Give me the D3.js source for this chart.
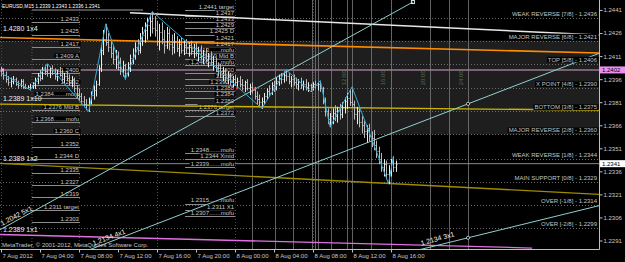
<!DOCTYPE html>
<html><head><meta charset="utf-8">
<script src="https://cdn.jsdelivr.net/npm/d3@7/dist/d3.min.js"></script>
<style>body{margin:0;background:#000;overflow:hidden}svg{display:block}text{font-family:"Liberation Sans",Arial,sans-serif;font-size:6px}</style>
</head><body>
<svg id="c" width="625" height="262"></svg>
<script>
// ---------- DATA ----------
const title = "EURUSD,M15  1.2339 1.2343 1.2336 1.2341";
const copyright = "MetaTrader, \u00a9 2001-2012, MetaQuotes Software Corp.";
const timeTicks = [0,16,32,48,64,80,96,112,128,144,160];
const timeLabels = ["7 Aug 2012","7 Aug 04:00","7 Aug 08:00","7 Aug 12:00","7 Aug 16:00","7 Aug 20:00","8 Aug 00:00","8 Aug 04:00","8 Aug 08:00","8 Aug 12:00","8 Aug 16:00"];
const priceTicks = [1.2441,1.2426,1.2411,1.2396,1.2381,1.2366,1.2351,1.2336,1.2321,1.2306,1.2291];

const highs = [1.2404,1.2402,1.2401,1.2398,1.2397,1.2398,1.2397,1.2395,1.2396,1.2396,1.2393,1.2392,1.2393,1.2394,
1.2397,1.2400,1.2402,1.2404,1.2405,1.2406,
1.2404,1.2405,1.2403,1.2402,1.2404,1.2402,1.2400,1.2401,1.2399,1.2398,1.2397,1.2392,1.2390,1.2387,1.2385,1.2383,1.2384,
1.2388,1.2392,1.2395,1.2405,1.2418,1.2428,1.2432,
1.2426,1.2422,1.2418,1.2415,1.2414,1.2410,1.2408,1.2406,
1.2407,1.2412,1.2416,1.2420,1.2422,1.2426,1.2430,1.2433,1.2436,1.2438,1.2440,
1.2437,1.2434,1.2432,1.2433,1.2428,1.2430,1.2429,1.2425,1.2426,1.2424,1.2422,1.2423,1.2421,1.2422,1.2420,1.2421,1.2419,1.2420,1.2417,1.2418,1.2415,1.2416,1.2413,1.2414,1.2411,1.2410,1.2407,1.2406,1.2404,1.2403,1.2401,1.2400,1.2398,1.2399,1.2397,1.2398,1.2396,1.2395,1.2396,1.2393,1.2394,1.2391,1.2388,1.2386,1.2384,
1.2387,1.2390,1.2392,1.2394,1.2395,1.2397,1.2399,1.2400,1.2401,1.2402,
1.2400,1.2398,1.2399,1.2397,1.2396,1.2397,1.2395,1.2396,1.2394,1.2393,
1.2394,1.2395,1.2394,1.2395,
1.2391,1.2384,1.2377,1.2374,
1.2377,1.2379,1.2378,1.2380,1.2381,1.2384,1.2387,1.2389,1.2391,
1.2382,1.2378,1.2377,1.2372,1.2369,1.2366,1.2367,1.2362,1.2363,1.2356,1.2352,1.2348,1.2344,1.2343,1.2340,1.2344,1.2346,1.2343];
const lows = [1.2398,1.2396,1.2394,1.2392,1.2391,1.2393,1.2392,1.2390,1.2391,1.2390,1.2390,1.2390,1.2389,1.2390,
1.2390,1.2393,1.2395,1.2396,1.2399,1.2398,
1.2397,1.2399,1.2396,1.2395,1.2398,1.2394,1.2393,1.2395,1.2392,1.2391,1.2388,1.2384,1.2382,1.2380,1.2378,1.2376,1.2375,
1.2380,1.2383,1.2385,1.2392,1.2401,1.2412,1.2418,
1.2414,1.2410,1.2406,1.2403,1.2402,1.2399,1.2398,1.2396,
1.2398,1.2401,1.2406,1.2409,1.2412,1.2413,1.2418,1.2420,1.2422,1.2424,1.2426,
1.2424,1.2418,1.2415,1.2419,1.2413,1.2416,1.2415,1.2412,1.2413,1.2414,1.2411,1.2413,1.2412,1.2413,1.2411,1.2412,1.2410,1.2411,1.2408,1.2409,1.2406,1.2407,1.2404,1.2405,1.2402,1.2401,1.2398,1.2397,1.2395,1.2394,1.2393,1.2392,1.2391,1.2392,1.2390,1.2391,1.2389,1.2388,1.2389,1.2386,1.2387,1.2383,1.2380,1.2378,1.2377,
1.2380,1.2383,1.2385,1.2386,1.2388,1.2389,1.2392,1.2393,1.2394,1.2395,
1.2393,1.2391,1.2392,1.2390,1.2389,1.2390,1.2389,1.2389,1.2388,1.2388,
1.2389,1.2390,1.2389,1.2388,
1.2380,1.2372,1.2367,1.2365,
1.2367,1.2369,1.2368,1.2370,1.2371,1.2374,1.2377,1.2379,1.2378,
1.2370,1.2367,1.2365,1.2361,1.2358,1.2355,1.2356,1.2352,1.2350,1.2345,1.2341,1.2336,1.2333,1.2331,1.2328,1.2333,1.2336,1.2336];
const closes = [1.2400,1.2399,1.2396,1.2394,1.2395,1.2396,1.2393,1.2392,1.2395,1.2391,1.2390,1.2391,1.2391,1.2392,
1.2395,1.2398,1.2397,1.2402,1.2401,1.2400,
1.2403,1.2400,1.2398,1.2401,1.2399,1.2396,1.2398,1.2397,1.2394,1.2396,1.2390,1.2386,1.2385,1.2382,1.2380,1.2379,1.2382,
1.2386,1.2389,1.2393,1.2403,1.2415,1.2422,1.2420,
1.2417,1.2413,1.2409,1.2411,1.2404,1.2401,1.2405,1.2400,
1.2404,1.2410,1.2412,1.2417,1.2415,1.2423,1.2425,1.2428,1.2431,1.2434,1.2429,
1.2428,1.2421,1.2427,1.2422,1.2418,1.2426,1.2419,1.2417,1.2421,1.2416,1.2419,1.2415,1.2418,1.2416,1.2417,1.2414,1.2416,1.2413,1.2414,1.2411,1.2412,1.2409,1.2410,1.2407,1.2408,1.2404,1.2403,1.2399,1.2401,1.2397,1.2399,1.2395,1.2396,1.2394,1.2395,1.2393,1.2392,1.2394,1.2390,1.2391,1.2389,1.2385,1.2383,1.2381,1.2382,
1.2385,1.2388,1.2387,1.2392,1.2390,1.2395,1.2397,1.2396,1.2399,1.2398,
1.2395,1.2396,1.2394,1.2393,1.2394,1.2392,1.2393,1.2391,1.2392,1.2391,
1.2393,1.2392,1.2393,1.2390,
1.2382,1.2375,1.2370,1.2372,
1.2374,1.2372,1.2376,1.2373,1.2378,1.2382,1.2384,1.2381,1.2380,
1.2373,1.2375,1.2368,1.2366,1.2362,1.2364,1.2359,1.2358,1.2353,1.2349,1.2344,1.2339,1.2341,1.2334,1.2336,1.2342,1.2339,1.2341];
const firstOpen = 1.2401;

// ZigZag vertices: [bar index, price]
const zigzag = [[0,1.2400],[12,1.2389],[19,1.2406],[36,1.2375],[43,1.2432],[51,1.2396],[62,1.2440],[107,1.2377],[117,1.2402],[127,1.2388],[131,1.2395],[135,1.2365],[144,1.2391],[159,1.2328],[161,1.2346]];

// Murrey math levels
const murreyPrices = [1.2436,1.2421,1.2406,1.2390,1.2375,1.2360,1.2344,1.2329,1.2314,1.2299];
const murreyNames = ["WEAK REVERSE  [7/8] - 1.2436","MAJOR REVERSE  [6/8] - 1.2421","TOP  [5/8] - 1.2406","X POINT  [4/8] - 1.2390","BOTTOM  [3/8] - 1.2375","MAJOR REVERSE  [2/8] - 1.2360","WEAK REVERSE  [1/8] - 1.2344","MAIN SUPPORT  [0/8] - 1.2329","OVER  [-1/8] - 1.2314","OVER  [-2/8] - 1.2299"];
const bandTop = 1.2421, bandBottom = 1.2360;

// Level columns (left fib-like tools)
const col1Prices = [1.2433,1.2425,1.2417,1.2409,1.2400,1.2392,1.2384,1.2376,1.2368,1.2360,1.2352,1.2344,1.2335,1.2327,1.2319,1.2311,1.2303];
const col1Labels = ["1.2433","1.2425","1.2417","1.2409 A","1.2400","1.2392","1.2384.......mofu","1.2376 Mid B","1.2368.......mofu","1.2360 C","1.2352","1.2344 D","1.2335","1.2327","1.2319","1.2311 target","1.2303"];
const col1Range = [12.7, 32.4];
const col2Prices = [1.2441,1.2437,1.2433,1.2429,1.2425,1.2421,1.2417,1.2413,1.2409,1.2405,1.2400,1.2396,1.2392,1.2388,1.2384,1.2380,1.2376,1.2372];
const col2Labels = ["1.2441 target","1.2437","1.2433","1.2429","1.2425 D","1.2421","1.2417","1.2413.......mofu","1.2409 Mid B","1.2405.......mofu","1.2400","1.2396","1.2392 A","1.2388","1.2384","1.2380","1.2376 target","1.2372"];
const col2Range = [75.5, 96];
const col3Prices = [1.2348,1.2344,1.2339,1.2315,1.2311,1.2307];
const col3Labels = ["1.2348.......mofu","1.2344 Xmid","1.2339.......mofu","1.2315.......mofu","1.2311 X1","1.2307.......mofu"];
const col3Range = [75.5, 96];

// Gann / trend lines: [i1, p1, i2, p2]
const gannLines = [
  {name:"", pts:[52.9,1.24392,245.7,1.24247], color:"#e8e8e8", w:1.5},
  {name:"1.4280 1x4", pts:[-0.41,1.24231,245.7,1.24130], color:"#ff8c00", w:1.6},
  {name:"1.2389 1x10", pts:[-0.41,1.23797,245.7,1.23758], color:"#c9b300", w:1.3},
  {name:"1.2389 1x2", pts:[-0.41,1.23412,245.7,1.23210], color:"#a08a00", w:1.3},
  {name:"1.2389 1x1", pts:[-0.41,1.22949,217.9,1.22861], color:"#e070e0", w:1.3},
  {name:"1.2042 5x1", pts:[-0.41,1.22980,169,1.24462], color:"#8fd0d0", w:1},
  {name:"1.2134 4x1", pts:[36.5,1.22851,245.7,1.24130], color:"#8fd0d0", w:1},
  {name:"1.2134 3x1", pts:[171.9,1.22851,245.7,1.23138], color:"#8fd0d0", w:1}
];
const pinkLevel = 1.2402, bidLevel = 1.2341;
const vLines = [103,112.4,119.8,127.6,128.8,130.1,135.4,142,144,151.8,160,176,183.8,191.6];
const rotLabels = [[141.5,"12:00"],[157.5,"16:00"],[174,"20:00"],[189.5,"24:00"]];
const redDots = [96.8,104,112];

// ---------- DRAW ----------
const svg = d3.select("#c");
const PR = 599, PB = 249;
const x = d3.scaleLinear().domain([0,16]).range([1,40]);
const y = d3.scaleLinear().domain([1.2441,1.2291]).range([10,240.5]);

svg.append("rect").attr("width",625).attr("height",262).attr("fill","#000");
svg.append("defs").append("clipPath").attr("id","pc").append("rect").attr("x",0).attr("y",0).attr("width",PR).attr("height",PB);
const g = svg.append("g").attr("clip-path","url(#pc)");

// band
g.append("rect").attr("x",0).attr("width",PR).attr("y",y(bandTop)).attr("height",y(bandBottom)-y(bandTop)).attr("fill","#1e1e1e");

// vertical grid (dotted)
g.selectAll(".vg").data(timeTicks.filter((d,i)=>i%2==0)).enter().append("line")
 .attr("x1",d=>Math.round(x(d))+0.5).attr("x2",d=>Math.round(x(d))+0.5).attr("y1",0).attr("y2",PB)
 .attr("stroke","#4a4a4a").attr("stroke-dasharray","1,2");
// vertical solid lines
g.selectAll(".vl").data(vLines).enter().append("line")
 .attr("x1",d=>Math.round(x(d))+0.5).attr("x2",d=>Math.round(x(d))+0.5).attr("y1",0).attr("y2",PB)
 .attr("stroke","#7a7a7a").attr("stroke-width",0.8);
g.selectAll(".rl").data(rotLabels).enter().append("text")
 .attr("transform",d=>`translate(${x(d[0])},${y(1.2392)}) rotate(-90)`)
 .attr("fill","#4f6f4f").text(d=>d[1]);

// murrey dotted lines
g.selectAll(".ml").data(murreyPrices).enter().append("line")
 .attr("x1",0).attr("x2",PR).attr("y1",d=>Math.round(y(d))+0.5).attr("y2",d=>Math.round(y(d))+0.5)
 .attr("stroke","#6a6a6a").attr("stroke-dasharray","1,2");

// pink and bid lines
g.append("line").attr("x1",0).attr("x2",PR).attr("y1",y(pinkLevel)).attr("y2",y(pinkLevel)).attr("stroke","#9a7890").attr("stroke-width",1.5);
g.append("line").attr("x1",0).attr("x2",PR).attr("y1",y(bidLevel)).attr("y2",y(bidLevel)).attr("stroke","#8a8a8a").attr("stroke-width",1);
g.append("rect").attr("x",x(0)).attr("y",y(pinkLevel)-1.5).attr("width",3).attr("height",3).attr("fill","#ff9cff");

// level columns
function drawCol(prices, labels, range){
  const cg = g.append("g");
  cg.selectAll("line").data(prices).enter().append("line")
    .attr("x1",x(range[0])).attr("x2",x(range[1])).attr("y1",d=>Math.round(y(d))+0.5).attr("y2",d=>Math.round(y(d))+0.5)
    .attr("stroke","#8c8c8c");
  const tg = cg.selectAll("g.t").data(prices).enter().append("g");
  tg.append("rect").attr("fill","#000");
  tg.append("text").attr("x",x(range[1])-1).attr("y",d=>y(d)-1.2).attr("text-anchor","end").attr("fill","#c8c8c8")
    .text((d,i)=>labels[i]);
  tg.each(function(){ const t=d3.select(this).select("text").node().getBBox();
    d3.select(this).select("rect").attr("x",t.x-1).attr("y",t.y+0.5).attr("width",t.width+2).attr("height",t.height-1.5); });
}
g.append("line").attr("x1",x(col1Range[0])).attr("x2",x(58.3)).attr("y1",y(1.2441)).attr("y2",y(1.2441)).attr("stroke","#9a9a9a");
g.append("line").attr("x1",x(col1Range[0])).attr("x2",x(col1Range[0])).attr("y1",y(1.2441)).attr("y2",PB).attr("stroke","#5a5a5a").attr("stroke-dasharray","1,2");
drawCol(col1Prices,col1Labels,col1Range);
drawCol(col2Prices,col2Labels,col2Range);
drawCol(col3Prices,col3Labels,col3Range);

// gann lines
gannLines.forEach(l=>{
  g.append("line").attr("x1",x(l.pts[0])).attr("y1",y(l.pts[1])).attr("x2",x(l.pts[2])).attr("y2",y(l.pts[3]))
   .attr("stroke",l.color).attr("stroke-width",l.w);
});
const lab = (t,tx,ty,rot)=>g.append("text").attr("transform",`translate(${tx},${ty}) rotate(${rot})`).attr("fill","#f0f0f0").style("font-size","7px").text(t);
lab(gannLines[1].name, 3, y(1.2424)-5, 0);
lab(gannLines[2].name, 3, y(1.2380)-2.5, 0);
lab(gannLines[3].name, 3, y(1.2341)-2.5, 0);
lab(gannLines[4].name, 3, y(1.2295)-2.5, 0);
lab(gannLines[5].name, x(0)+1, y(1.2300)-1, -27);
lab(gannLines[6].name, x(38), y(1.2287)-1, -21);
lab(gannLines[7].name, x(172.5), y(1.2287)-1, -16);
g.append("rect").attr("x",x(169)-1.5).attr("y",y(1.24462)-1.5).attr("width",3).attr("height",3).attr("fill","none").attr("stroke","#e0e0e0");
const tAt=(l,i)=>l.pts[1]+(l.pts[3]-l.pts[1])*(i-l.pts[0])/(l.pts[2]-l.pts[0]);
[gannLines[6],gannLines[7]].forEach(l=>g.append("circle").attr("cx",x(191.6)).attr("cy",y(tAt(l,191.6))).attr("r",1.6).attr("fill","#000").attr("stroke","#e0e0e0").attr("stroke-width",0.8));

// bars
const bars = highs.map((h,i)=>({i,h,l:lows[i],c:closes[i],o:i?closes[i-1]:firstOpen}));
const bg = g.append("g").attr("stroke","#d0d0d0").attr("stroke-width",1);
bars.forEach(b=>{
  const xx = Math.round(x(b.i))+0.5;
  bg.append("line").attr("x1",xx).attr("x2",xx).attr("y1",y(b.h)).attr("y2",y(b.l)+0.5).attr("stroke",b.c>=b.o?"#ececec":"#b8b8b8");
  bg.append("line").attr("x1",xx-1).attr("x2",xx).attr("y1",Math.round(y(b.o))+0.5).attr("y2",Math.round(y(b.o))+0.5).attr("stroke-width",0.8);
  bg.append("line").attr("x1",xx).attr("x2",xx+1).attr("y1",Math.round(y(b.c))+0.5).attr("y2",Math.round(y(b.c))+0.5).attr("stroke-width",0.8);
});
g.selectAll(".rd").data(redDots).enter().append("rect").attr("x",d=>x(d)-1).attr("y",y(1.2390)-1).attr("width",2).attr("height",2).attr("fill","#ff3030");

// zigzag
g.append("path").attr("d",d3.line().x(d=>x(d[0])).y(d=>y(d[1]))(zigzag)).attr("fill","none").attr("stroke","#2fa8d8").attr("stroke-width",1);

// murrey labels
const mg = g.selectAll(".mt").data(murreyPrices).enter().append("g");
mg.append("rect").attr("fill","#000");
mg.append("text").attr("x",597).attr("y",d=>y(d)-2).attr("text-anchor","end").attr("fill","#c4c4c4").text((d,i)=>murreyNames[i]);
mg.each(function(){const t=d3.select(this).select("text").node().getBBox();
  d3.select(this).select("rect").attr("x",t.x-1).attr("y",t.y).attr("width",t.width+2).attr("height",t.height-0.5);});

// title & copyright
svg.append("text").attr("x",2).attr("y",8).attr("fill","#ffffff").attr("textLength",98).attr("lengthAdjust","spacingAndGlyphs").text(title);
svg.append("text").attr("x",2).attr("y",247).attr("fill","#c8c8c8").text(copyright);

// axes
const ay = svg.append("g").attr("transform",`translate(${PR+0.5},0)`)
  .call(d3.axisRight(y).tickValues(priceTicks).tickSize(3).tickFormat(d3.format(".4f")));
const ax = svg.append("g").attr("transform",`translate(0,${PB+0.5})`)
  .call(d3.axisBottom(x).tickValues(timeTicks).tickSize(3).tickFormat((d,i)=>timeLabels[i]));
[ay,ax].forEach(a=>{a.select(".domain").remove(); a.selectAll("line").attr("stroke","#c0c0c0");
  a.selectAll("text").attr("fill","#c8c8c8").style("font-family","Liberation Sans, Arial").style("font-size","6px");});
ax.selectAll("text").attr("text-anchor","start").attr("dy","0.9em").attr("y",3).attr("x",1);
ay.selectAll("text").attr("x",4);
svg.append("line").attr("x1",0).attr("x2",PR+0.5).attr("y1",PB+0.5).attr("y2",PB+0.5).attr("stroke","#c0c0c0");
svg.append("line").attr("x1",PR+0.5).attr("x2",PR+0.5).attr("y1",0).attr("y2",PB+0.5).attr("stroke","#c0c0c0");

function pbox(p,bgc){const gg=svg.append("g");
  gg.append("rect").attr("x",PR+1).attr("y",y(p)-3.5).attr("width",25).attr("height",7).attr("fill",bgc);
  gg.append("text").attr("x",PR+3).attr("y",y(p)+2.2).attr("fill","#000").text(p.toFixed(4));}
pbox(pinkLevel,"#ee90ee");
pbox(bidLevel,"#ffffff");
</script>
</body></html>
